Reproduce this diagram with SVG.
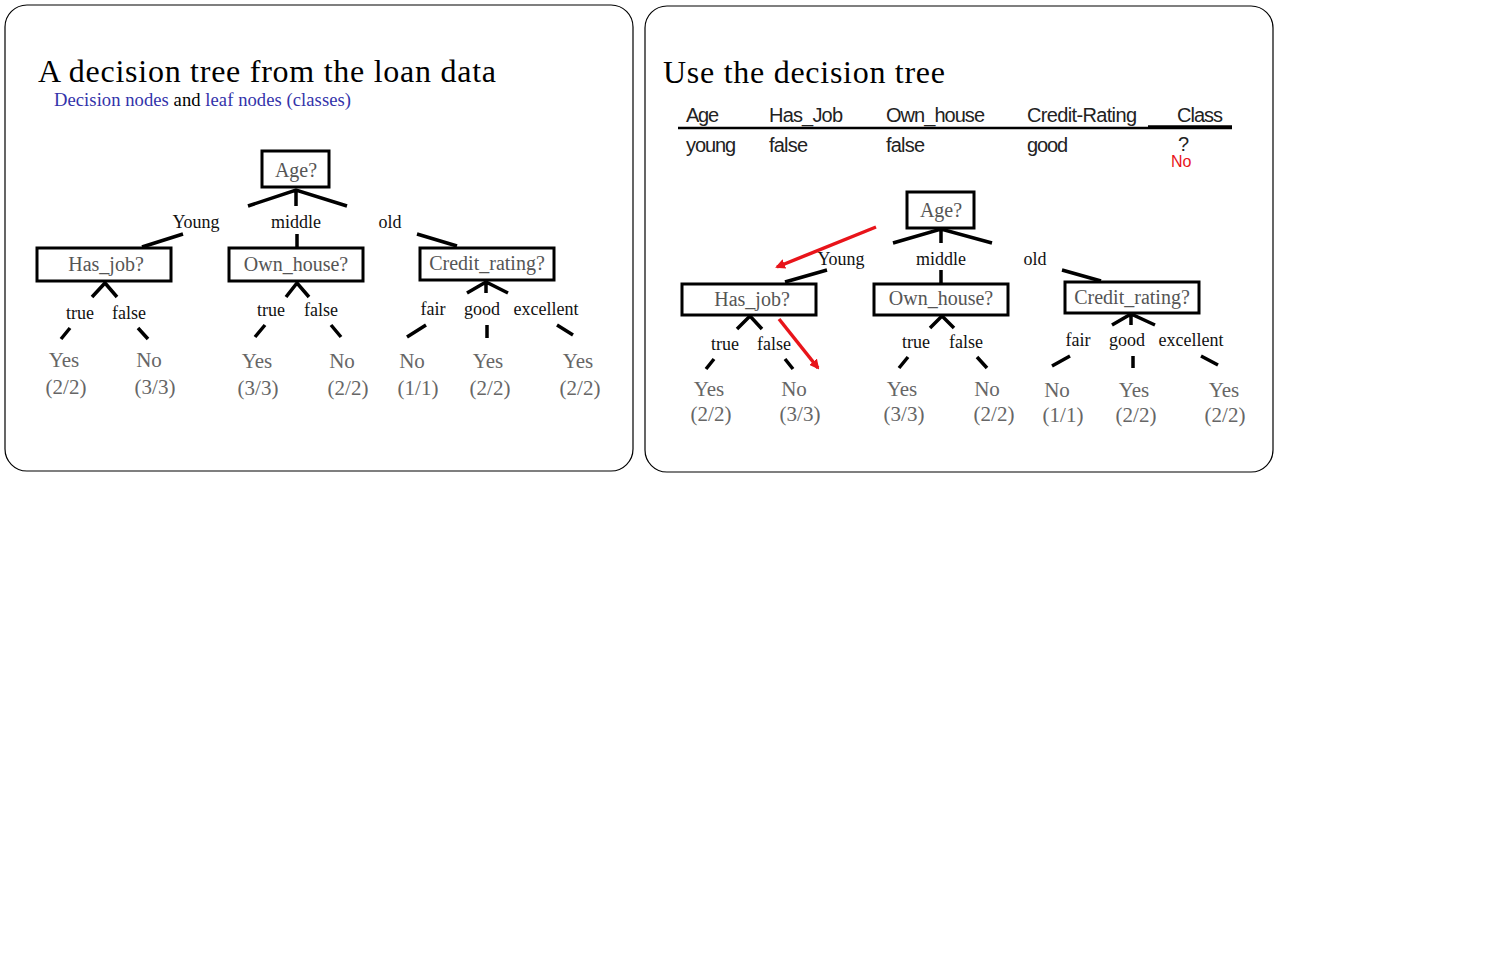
<svg xmlns="http://www.w3.org/2000/svg" width="1496" height="969" viewBox="0 0 1496 969">
<style>
.panel{fill:#fff;stroke:#000;stroke-width:1.2}
.title{font-family:"Liberation Serif",serif;font-size:32px;fill:#000}
.sub{font-family:"Liberation Serif",serif;font-size:18.6px;fill:#3333aa}
.box{fill:#fff;stroke:#000;stroke-width:3}
.nl{font-family:"Liberation Serif",serif;font-size:20px;fill:#555;text-anchor:middle}
.bl{font-family:"Liberation Serif",serif;font-size:18px;fill:#111;text-anchor:middle}
.lf{font-family:"Liberation Serif",serif;font-size:21px;fill:#666;text-anchor:middle}
.edge{stroke:#000;stroke-width:3.5;fill:none;stroke-linecap:butt}
.tbl{font-family:"Liberation Sans",sans-serif;font-size:20px;fill:#222}
.red{stroke:#e8141a;stroke-width:3.5;fill:none}
</style>
<defs>
<marker id="ah" markerWidth="10" markerHeight="10" refX="8" refY="5" orient="auto" markerUnits="userSpaceOnUse" viewBox="0 0 10 10">
<path d="M0,0 L10,5 L0,10 z" fill="#e8141a"/>
</marker>
</defs>
<rect width="1496" height="969" fill="#fff"/>

<g id="panel-left">
<rect class="panel" x="5" y="5" width="628" height="466" rx="22"/>
<text class="title" x="38" y="82" textLength="458">A decision tree from the loan data</text>
<text class="sub" x="54" y="106" textLength="297"><tspan>Decision nodes</tspan><tspan fill="#000"> and </tspan><tspan>leaf nodes (classes)</tspan></text>
</g>

<g id="connectors-left">
<path class="edge" d="M248,206 L296,190 L347,206 M296,190 L296,206"/>
<path class="edge" d="M183,234 L142,247 M297,234 L297,248 M417,234 L457,246"/>
<path class="edge" d="M92,297 L105,283 L117,297"/>
<path class="edge" d="M70,328 L61,339 M138,328 L148,339"/>
<path class="edge" d="M286,297 L297,283 L309,297"/>
<path class="edge" d="M265,325 L255,337 M331,325 L341,337"/>
<path class="edge" d="M467,293 L486,282 L508,293 M486,282 L486,293"/>
<path class="edge" d="M426,325 L407,337 M487,325 L487,338 M557,325 L573,335"/>
</g>

<g id="L-age"><rect class="box" x="262" y="151" width="67" height="36"/><text class="nl" x="296" y="177">Age?</text></g>
<g id="L-labels-age"><text class="bl" x="196" y="228">Young</text><text class="bl" x="296" y="228">middle</text><text class="bl" x="390" y="228">old</text></g>
<g id="L-hasjob"><rect class="box" x="37" y="248" width="134" height="33"/><text class="nl" x="106" y="271">Has_job?</text></g>
<g id="L-ownhouse"><rect class="box" x="229" y="248" width="134" height="33"/><text class="nl" x="296" y="271">Own_house?</text></g>
<g id="L-credit"><rect class="box" x="420" y="248" width="134" height="32"/><text class="nl" x="487" y="270">Credit_rating?</text></g>
<g id="L-labels-sub">
<text class="bl" x="80" y="319">true</text><text class="bl" x="129" y="319">false</text>
<text class="bl" x="271" y="316">true</text><text class="bl" x="321" y="316">false</text>
<text class="bl" x="433" y="315">fair</text><text class="bl" x="482" y="315">good</text><text class="bl" x="546" y="315">excellent</text>
</g>
<g id="L-leaf1"><text class="lf" x="64" y="367">Yes</text><text class="lf" x="66" y="394">(2/2)</text></g>
<g id="L-leaf2"><text class="lf" x="149" y="367">No</text><text class="lf" x="155" y="394">(3/3)</text></g>
<g id="L-leaf3"><text class="lf" x="257" y="368">Yes</text><text class="lf" x="258" y="395">(3/3)</text></g>
<g id="L-leaf4"><text class="lf" x="342" y="368">No</text><text class="lf" x="348" y="395">(2/2)</text></g>
<g id="L-leaf5"><text class="lf" x="412" y="368">No</text><text class="lf" x="418" y="395">(1/1)</text></g>
<g id="L-leaf6"><text class="lf" x="488" y="368">Yes</text><text class="lf" x="490" y="395">(2/2)</text></g>
<g id="L-leaf7"><text class="lf" x="578" y="368">Yes</text><text class="lf" x="580" y="395">(2/2)</text></g>

<g id="panel-right">
<rect class="panel" x="645" y="6" width="628" height="466" rx="22"/>
<text class="title" x="663" y="83" textLength="282">Use the decision tree</text>
</g>

<g id="table">
<text class="tbl" x="686" y="122" textLength="33">Age</text>
<text class="tbl" x="769" y="122" textLength="74">Has_Job</text>
<text class="tbl" x="886" y="122" textLength="99">Own_house</text>
<text class="tbl" x="1027" y="122" textLength="110">Credit-Rating</text>
<text class="tbl" x="1177" y="122" textLength="46">Class</text>
<line x1="678" y1="128" x2="1232" y2="128" stroke="#000" stroke-width="2.5"/>
<line x1="1148" y1="126.5" x2="1232" y2="126.5" stroke="#000" stroke-width="2.5"/>
<text class="tbl" x="686" y="152" textLength="50">young</text>
<text class="tbl" x="769" y="152" textLength="39">false</text>
<text class="tbl" x="886" y="152" textLength="39">false</text>
<text class="tbl" x="1027" y="152" textLength="41">good</text>
<text class="tbl" x="1178" y="151" font-size="18">?</text>
<text x="1171" y="167" font-family="Liberation Sans, sans-serif" font-size="16" fill="#e8141a">No</text>
</g>

<g id="connectors-right">
<path class="edge" d="M893,243 L941,229 L992,243 M941,229 L941,243"/>
<path class="edge" d="M827,270 L785,282 M941,270 L941,283 M1062,270 L1101,281"/>
<path class="edge" d="M737,329 L750,316 L762,329"/>
<path class="edge" d="M714,359 L706,369 M785,359 L793,369"/>
<path class="edge" d="M930,328 L942,316 L954,328"/>
<path class="edge" d="M908,357 L899,368 M977,357 L987,368"/>
<path class="edge" d="M1112,325 L1131,314 L1155,325 M1131,314 L1131,325"/>
<path class="edge" d="M1070,356 L1052,366 M1133,356 L1133,368 M1201,356 L1218,365"/>
<line class="red" x1="876" y1="227" x2="777" y2="267" marker-end="url(#ah)"/>
<line class="red" x1="779" y1="319" x2="818" y2="368" marker-end="url(#ah)"/>
</g>

<g id="R-age"><rect class="box" x="907" y="192" width="67" height="36"/><text class="nl" x="941" y="217">Age?</text></g>
<g id="R-labels-age"><text class="bl" x="841" y="265">Young</text><text class="bl" x="941" y="265">middle</text><text class="bl" x="1035" y="265">old</text></g>
<g id="R-hasjob"><rect class="box" x="682" y="284" width="134" height="31"/><text class="nl" x="752" y="306">Has_job?</text></g>
<g id="R-ownhouse"><rect class="box" x="874" y="284" width="134" height="31"/><text class="nl" x="941" y="305">Own_house?</text></g>
<g id="R-credit"><rect class="box" x="1065" y="282" width="134" height="31"/><text class="nl" x="1132" y="304">Credit_rating?</text></g>
<g id="R-labels-sub">
<text class="bl" x="725" y="350">true</text><text class="bl" x="774" y="350">false</text>
<text class="bl" x="916" y="348">true</text><text class="bl" x="966" y="348">false</text>
<text class="bl" x="1078" y="346">fair</text><text class="bl" x="1127" y="346">good</text><text class="bl" x="1191" y="346">excellent</text>
</g>
<g id="R-leaf1"><text class="lf" x="709" y="396">Yes</text><text class="lf" x="711" y="421">(2/2)</text></g>
<g id="R-leaf2"><text class="lf" x="794" y="396">No</text><text class="lf" x="800" y="421">(3/3)</text></g>
<g id="R-leaf3"><text class="lf" x="902" y="396">Yes</text><text class="lf" x="904" y="421">(3/3)</text></g>
<g id="R-leaf4"><text class="lf" x="987" y="396">No</text><text class="lf" x="994" y="421">(2/2)</text></g>
<g id="R-leaf5"><text class="lf" x="1057" y="397">No</text><text class="lf" x="1063" y="422">(1/1)</text></g>
<g id="R-leaf6"><text class="lf" x="1134" y="397">Yes</text><text class="lf" x="1136" y="422">(2/2)</text></g>
<g id="R-leaf7"><text class="lf" x="1224" y="397">Yes</text><text class="lf" x="1225" y="422">(2/2)</text></g>
</svg>
